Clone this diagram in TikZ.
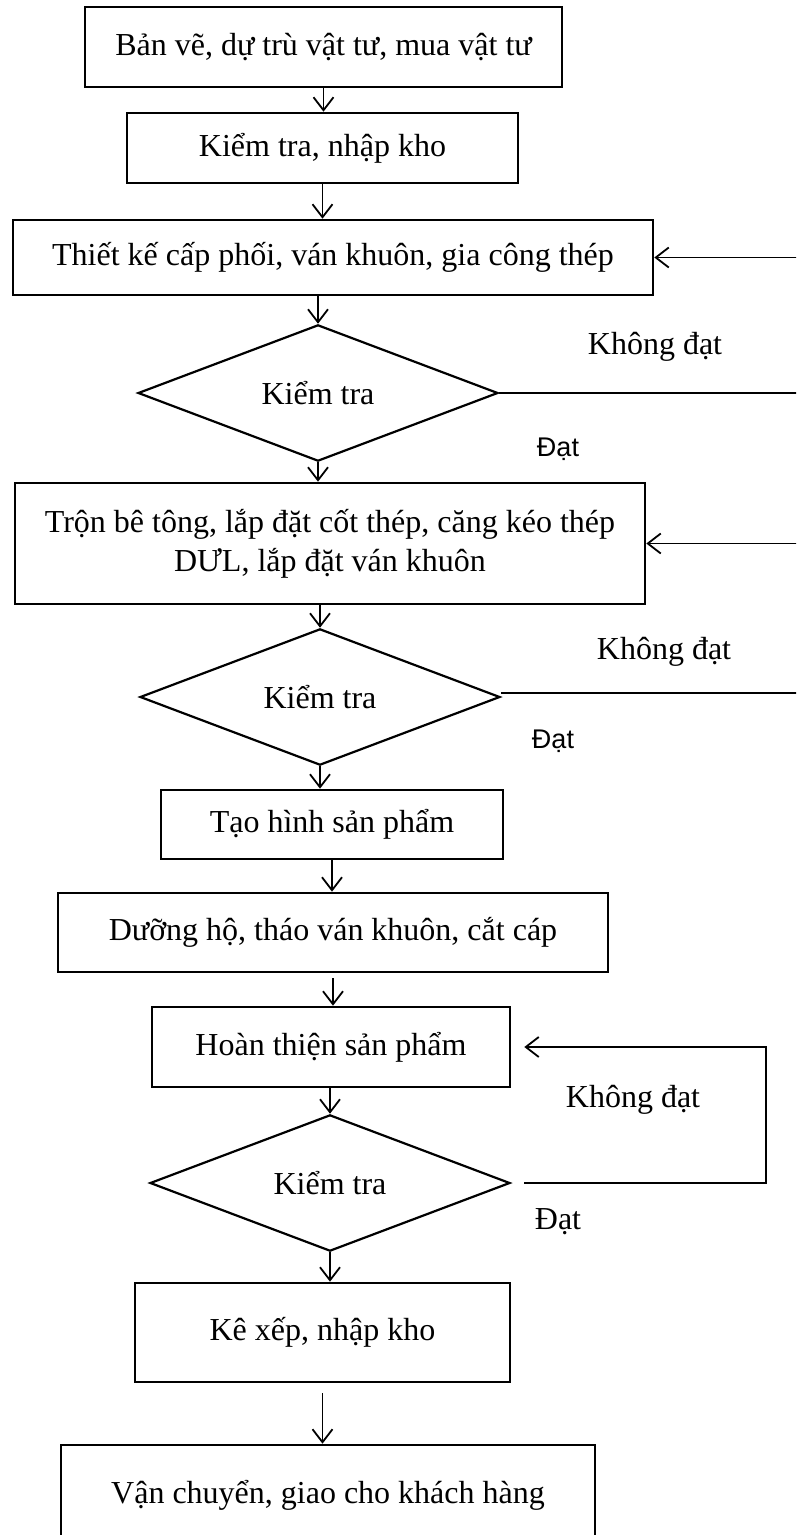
\documentclass[tikz,border=0pt]{standalone}
\usepackage{fontspec}
\setmainfont{Liberation Serif}
\newfontfamily\labelsans{Liberation Sans}
\usetikzlibrary{shapes.geometric,arrows.meta}

\begin{document}
\begin{tikzpicture}[x=1pt,y=-1pt,
  box/.style={draw, line width=2.6pt, inner sep=0pt, align=center,
    font=\fontsize{32}{39}\selectfont},
  dia/.style={draw, diamond, line width=2.2pt, inner sep=0pt,
    minimum width=360, minimum height=#1, font=\fontsize{32}{39}\selectfont},
  lbl/.style={inner sep=0pt, font=\fontsize{32}{39}\selectfont},
  lblsans/.style={inner sep=0pt, font=\labelsans\fontsize{27}{32}\selectfont},
  arr/.style={line width=1.8pt, -{Straight Barb[length=13pt,width=20pt,line width=1.8pt]}},
]
\clip (0,0) rectangle (796,1535);
\fill[white] (0,0) rectangle (796,1535);

% process steps
\node[box, minimum width=477, minimum height=80]  (b1) at (323.5,47)   {Bản vẽ, dự trù vật tư, mua vật tư};
\node[box, minimum width=391, minimum height=70]  (b2) at (322.5,148)  {Kiểm tra, nhập kho};
\node[box, minimum width=640, minimum height=75]  (b3) at (333,257.5)  {Thiết kế cấp phối, ván khuôn, gia công thép};
\node[dia=125] (d1) at (318,393) {Kiểm tra};
\node[box, minimum width=630, minimum height=121] (b4) at (330,543.5)  {Trộn bê tông, lắp đặt cốt thép, căng kéo thép\\DƯL, lắp đặt ván khuôn};
\node[dia=113] (d2) at (320,697) {Kiểm tra};
\node[box, minimum width=342, minimum height=69]  (b5) at (332,824.5)  {Tạo hình sản phẩm};
\node[box, minimum width=550, minimum height=79]  (b6) at (333,932.5)  {Dưỡng hộ, tháo ván khuôn, cắt cáp};
\node[box, minimum width=358, minimum height=80]  (b7) at (331,1047)   {Hoàn thiện sản phẩm};
\node[dia=130] (d3) at (330,1183) {Kiểm tra};
\node[box, minimum width=375, minimum height=99]  (b8) at (322.5,1332.5) {Kê xếp, nhập kho};
\node[box, minimum width=534, minimum height=100] (b9) at (328,1495)   {Vận chuyển, giao cho khách hàng};

% decision labels
\node[lbl]     (k1) at (655,347)  {Không đạt};
\node[lblsans] (p1) at (558,449)  {Đạt};
\node[lbl]     (k2) at (664,652)  {Không đạt};
\node[lblsans] (p2) at (553,741)  {Đạt};
\node[lbl]     (k3) at (633,1100) {Không đạt};
\node[lbl]     (p3) at (558,1222) {Đạt};

% main flow
\draw[arr] (b1.south) -- (b1.south |- b2.north);
\draw[arr] (b2.south) -- (b2.south |- b3.north);
\draw[arr] (d1.north |- b3.south) -- (d1.north);
\draw[arr] (d1.south) -- (d1.south |- b4.north);
\draw[arr] (d2.north |- b4.south) -- (d2.north);
\draw[arr] (d2.south) -- (d2.south |- b5.north);
\draw[arr] (b5.south) -- (b5.south |- b6.north);
\draw[arr, shorten <=5pt] (b6.south) -- (b6.south |- b7.north);
\draw[arr] (d3.north |- b7.south) -- (d3.north);
\draw[arr] (d3.south) -- (d3.south |- b8.north);
\draw[arr, shorten <=10pt] (b8.south) -- (b8.south |- b9.north);

% rework loops
\coordinate (r1) at (805,0);
\coordinate (r3) at (766,0);
\draw[arr] (d1.east) -- (d1.east -| r1) |- (b3.east);
\draw[arr] ([yshift=4pt]d2.east) -- ([yshift=4pt]d2.east -| r1) |- (b4.east);
\draw[arr, shorten <=13pt, shorten >=13pt] (d3.east) -- (d3.east -| r3) |- (b7.east);
\end{tikzpicture}
\end{document}
